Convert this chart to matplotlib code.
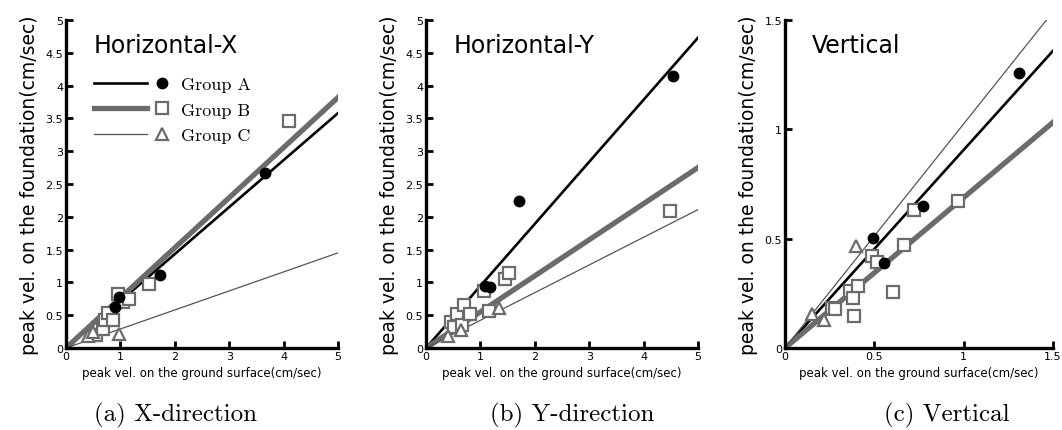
import numpy as np
import matplotlib
matplotlib.use("Agg")
import matplotlib.pyplot as plt
from matplotlib.lines import Line2D
from matplotlib.legend_handler import HandlerBase

# ---- data ----
# (a) X-direction
xa_x = [0.90, 0.98, 1.72, 3.65]
xa_y = [0.62, 0.77, 1.12, 2.67]
xb_x = [0.55, 0.68, 0.72, 0.78, 0.86, 0.96, 1.05, 1.15, 1.52, 4.10]
xb_y = [0.20, 0.29, 0.42, 0.53, 0.42, 0.82, 0.70, 0.75, 0.98, 3.46]
xc_x = [0.40, 0.50, 0.97]
xc_y = [0.18, 0.25, 0.22]
slope_x = [0.716, 0.764, 0.290]

# (b) Y-direction
ya_x = [1.08, 1.18, 1.71, 4.54]
ya_y = [0.95, 0.93, 2.24, 4.14]
yb_x = [0.46, 0.52, 0.57, 0.66, 0.70, 0.81, 1.07, 1.15, 1.45, 1.52, 4.49]
yb_y = [0.40, 0.32, 0.52, 0.35, 0.65, 0.52, 0.87, 0.57, 1.05, 1.15, 2.09]
yc_x = [0.41, 0.64, 1.35]
yc_y = [0.19, 0.27, 0.61]
slope_y = [0.946, 0.550, 0.422]

# (c) Vertical
za_x = [0.494, 0.556, 0.775, 1.31]
za_y = [0.504, 0.388, 0.649, 1.257]
zb_x = [0.262, 0.28, 0.366, 0.38, 0.386, 0.407, 0.487, 0.517, 0.604, 0.666, 0.721, 0.969]
zb_y = [0.185, 0.179, 0.262, 0.230, 0.146, 0.285, 0.420, 0.395, 0.258, 0.471, 0.629, 0.670]
zc_x = [0.152, 0.216, 0.40]
zc_y = [0.155, 0.129, 0.468]
slope_z = [0.906, 0.688, 1.025]

titles = ["Horizontal-X", "Horizontal-Y", "Vertical"]
captions = ["(a) X-direction", "(b) Y-direction", "(c) Vertical"]
groups = ["Group A", "Group B", "Group C"]

# ---- styles ----
GRAY = "#6b6b6b"
line_style = [dict(color="black", lw=1.9),
              dict(color=GRAY, lw=3.8),
              dict(color="#555555", lw=0.9)]
mark_style = [dict(marker="o", ms=7.5, mfc="black", mec="black", ls="none"),
              dict(marker="s", ms=8.5, mfc="white", mec=GRAY, mew=1.6, ls="none"),
              dict(marker="^", ms=9, mfc="white", mec=GRAY, mew=1.6, ls="none")]


class LineThenMarker(HandlerBase):
    # line on the left, marker on the right
    def create_artists(self, legend, orig_handle, xdescent, ydescent,
                       width, height, fontsize, trans):
        ls, ms = orig_handle
        y = height / 2 - ydescent
        x0 = -xdescent
        ln = Line2D([x0, x0 + width * 0.68], [y, y], **ls)
        mk = Line2D([x0 + width * 0.87], [y], **ms)
        ln.set_transform(trans)
        mk.set_transform(trans)
        return [ln, mk]


fig = plt.figure(figsize=(10.62, 4.31), dpi=100)
fig.patch.set_facecolor("white")

H = 431.0
W = 1062.0
ax_left = [66, 426, 785]
ax_right = [338, 698, 1053]
bottom = 1 - 349 / H
top = 1 - 21 / H

panels = [
    (xa_x, xa_y, xb_x, xb_y, xc_x, xc_y, slope_x, 5.0),
    (ya_x, ya_y, yb_x, yb_y, yc_x, yc_y, slope_y, 5.0),
    (za_x, za_y, zb_x, zb_y, zc_x, zc_y, slope_z, 1.5),
]
cap_x = [176, 572, 947]

for i, (ax_x, ax_y, bx, by, cx, cy, slopes, lim) in enumerate(panels):
    ax = fig.add_axes([ax_left[i] / W, bottom,
                       (ax_right[i] - ax_left[i]) / W, top - bottom])
    xs = np.array([0.0, lim])
    for k in range(3):
        ax.plot(xs, slopes[k] * xs, zorder=2, **line_style[k])
    ax.plot(ax_x, ax_y, zorder=4, **mark_style[0])
    ax.plot(bx, by, zorder=3, **mark_style[1])
    ax.plot(cx, cy, zorder=3, **mark_style[2])

    ax.set_xlim(0, lim)
    ax.set_ylim(0, lim)
    if lim == 5.0:
        xt = [0, 1, 2, 3, 4, 5]
        xtl = ["0", "1", "2", "3", "4", "5"]
        yt = np.arange(0, 5.01, 0.5)
        ytl = ["0", "0.5", "1", "1.5", "2", "2.5", "3", "3.5", "4", "4.5", "5"]
    else:
        xt = [0, 0.5, 1, 1.5]
        xtl = ["0", "0.5", "1", "1.5"]
        yt = xt
        ytl = xtl
    ax.set_xticks(xt)
    ax.set_xticklabels(xtl)
    ax.set_yticks(yt)
    ax.set_yticklabels(ytl)
    ax.tick_params(direction="in", length=5, width=2, labelsize=8, pad=2)

    for s in ["top", "right"]:
        ax.spines[s].set_visible(False)
    for s in ["left", "bottom"]:
        ax.spines[s].set_linewidth(2.4)

    ax.set_xlabel("peak vel. on the ground surface(cm/sec)", fontsize=8.5, labelpad=4)
    ax.set_ylabel("peak vel. on the foundation(cm/sec)", fontsize=13.5, labelpad=5)
    ax.text(0.1, 0.96, titles[i], transform=ax.transAxes,
            fontsize=17, va="top", ha="left")

    if i == 0:
        handles = [(line_style[k], mark_style[k]) for k in range(3)]
        ax.legend(handles, groups, handler_map={tuple: LineThenMarker()},
                  loc="upper left", bbox_to_anchor=(0.07, 0.855),
                  frameon=False, borderpad=0, handlelength=4.3,
                  handletextpad=0.5, labelspacing=0.55,
                  prop={"family": "cmr10", "size": 13})

    fig.text(cap_x[i] / W, 1 - 415 / H, captions[i], family="cmr10",
             fontsize=18, ha="center", va="center")

fig.savefig("out.png", dpi=100)
